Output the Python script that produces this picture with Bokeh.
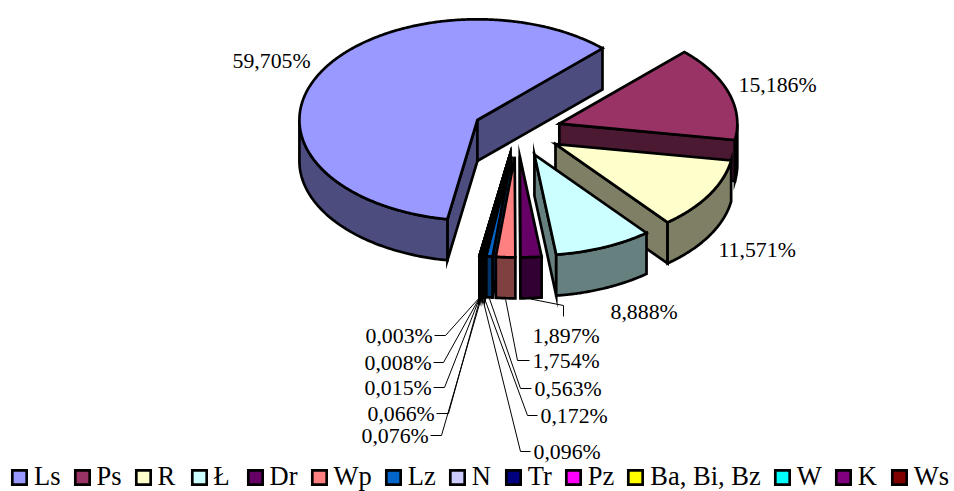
import numpy as np
from bokeh.embed import file_html
from bokeh.models import Legend, LegendItem, Range1d
from bokeh.plotting import figure
from bokeh.resources import INLINE

# ---- data ----
names = ["Ls", "Ps", "R", "Ł", "Dr", "Wp", "Lz", "N", "Tr", "Pz", "Ba, Bi, Bz", "W", "K", "Ws"]
shares = [59.705, 15.186, 11.571, 8.888, 1.897, 1.754, 0.563, 0.172, 0.096, 0.076, 0.066, 0.015, 0.008, 0.003]
colors = ["#9999FF", "#993366", "#FFFFCC", "#CCFFFF", "#660066", "#FF8080", "#0066CC",
          "#CCCCFF", "#000080", "#FF00FF", "#FFFF00", "#00FFFF", "#800080", "#800000"]

# ---- projection of the pie (pixels of the page) ----
OX, OY = 516.5, 131.0
RX, RY = 178.0, 100.7
DEPTH = 41.0
EXPLODE = 0.25
START = 260.3
LW = 2.7
FONT = "Liberation Serif"

# label anchors: left edge of text, centre y, elbow of the leader (None = no leader)
label_layout = [
    (232, 60, None), (738, 84, None), (718, 249, None), (610, 311, None),
    (532, 335, [(563, 305), (563, 316)]),
    (532, 360, [(517, 360), (529, 360)]),
    (534, 388, [(520, 388), (531, 388)]),
    (540, 415, [(527, 415), (537, 415)]),
    (533, 451, [(520, 451), (530, 451)]),
    (361, 435, [(441, 435), (430, 435)]),
    (367, 413, [(448, 413), (436, 413)]),
    (364, 387, [(444, 387), (433, 387)]),
    (364, 362, [(443, 362), (433, 362)]),
    (365, 335, [(445, 335), (434, 335)]),
]

p = figure(width=954, height=491, output_backend="svg", toolbar_location=None,
           x_range=Range1d(0, 954), y_range=Range1d(491, 0),
           x_axis_location=None, y_axis_location=None, min_border=0,
           outline_line_color=None, background_fill_color="white")
p.grid.visible = False


def shade(hex_color):
    c = [int(hex_color[i:i + 2], 16) // 2 for i in (1, 3, 5)]
    return "#%02X%02X%02X" % tuple(c)


def rim(cx, cy, deg):
    r = np.radians(deg)
    return cx + RX * np.cos(r), cy - RY * np.sin(r)


style = dict(line_color="black", line_width=LW, line_join="miter")

# angular span of every slice, clockwise from START
ends = START - np.cumsum(shares) * 3.6
starts = np.r_[START, ends[:-1]]
mids = (starts + ends) / 2
# painter's order: back of the pie first, slices nearest the viewer last
order = np.argsort(-np.abs(mids + 90), kind="stable")

tops = {}
for i in order:
    share, color, lab = shares[i], colors[i], label_layout[i]
    t1, t2, mid = starts[i], ends[i], mids[i]
    ex, ey = rim(0, 0, mid)
    cx, cy = OX + EXPLODE * ex, OY + EXPLODE * ey
    dark = shade(color)
    mx, my = rim(cx, cy, mid)

    # cut faces that can be seen from above
    for t in (t1, t2):
        ax, ay = rim(cx, cy, t)
        side_m = (ax - cx) * (my - cy) - (ay - cy) * (mx - cx)
        side_d = (ax - cx) * DEPTH
        if side_m * side_d < 0:
            p.patch([cx, ax, ax, cx], [cy, ay, ay + DEPTH, cy + DEPTH], fill_color=dark, **style)

    # outer wall: only the front half of the ellipse
    spans = []
    if t1 > 180:
        spans.append((t1, max(t2, 180)))
    if t2 < 0:
        spans.append((min(t1, 0), t2))
    for a, b in spans:
        ts = np.linspace(a, b, 80)
        wx, wy = rim(cx, cy, ts)
        p.patch(np.r_[wx, wx[::-1]], np.r_[wy, wy[::-1] + DEPTH], fill_color=dark, **style)

    # top face
    ts = np.linspace(t1, t2, max(6, int(share * 8)))
    tx, ty = rim(cx, cy, ts)
    tops[i] = p.patch(np.r_[cx, tx], np.r_[cy, ty], fill_color=color, **style)

    # label and leader
    lx, ly, elbow = lab
    if elbow:
        sx, sy = rim(cx, cy, mid)
        px = [sx] + [e[0] for e in elbow]
        py = [sy + DEPTH + 1] + [e[1] for e in elbow]
        p.line(px, py, line_color="black", line_width=1)
    p.text([lx], [ly], text=[f"{share:.3f}%".replace(".", ",")], text_font_size="21.8px",
           text_baseline="middle", text_align="left", text_color="black",
           text_font={"value": FONT})

legend_items = [LegendItem(label=n, renderers=[tops[i]]) for i, n in enumerate(names)]
legend = Legend(items=legend_items, orientation="horizontal", location=(10, -1),
                background_fill_alpha=0, border_line_color=None, padding=0, margin=0,
                glyph_width=18, glyph_height=18, label_standoff=6, spacing=12,
                label_text_font=FONT, label_text_font_size="26.5px", label_text_color="black",
                label_height=20)
p.add_layout(legend, "center")

open("out.html", "w").write(file_html(p, INLINE))
